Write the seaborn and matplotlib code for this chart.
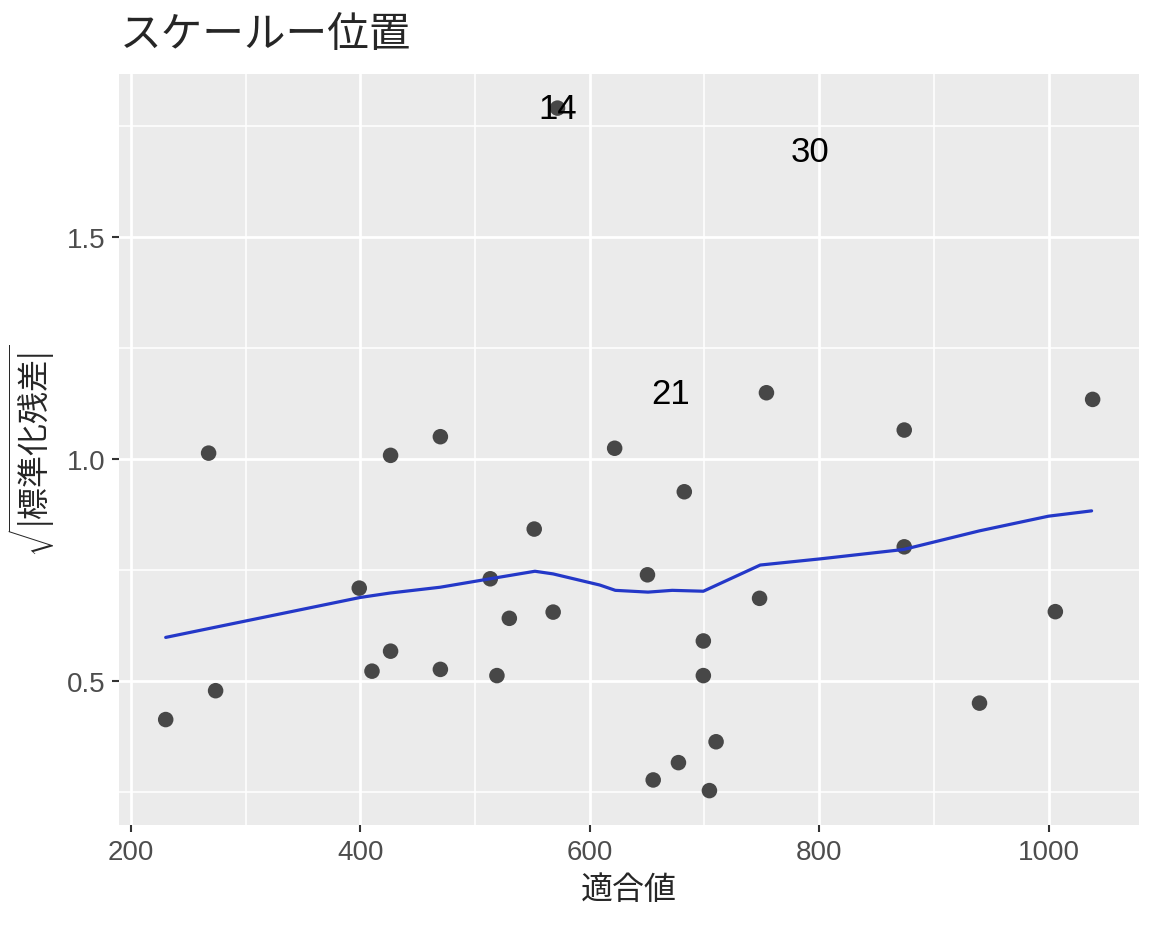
import numpy as np
import pandas as pd
import seaborn as sns
import matplotlib
matplotlib.use("Agg")
import matplotlib.pyplot as plt
from matplotlib.ticker import MultipleLocator

# fitted values vs sqrt(|standardized residuals|)
fitted = [230.4, 267.8, 273.9, 399.1, 410.2, 426.4, 426.4, 469.8, 469.8, 513.3,
          519.1, 529.9, 551.6, 568.1, 571.9, 621.7, 650.3, 682.4, 655.3, 677.3,
          699.0, 699.0, 710.1, 704.3, 748.0, 754.0, 874.1, 874.1, 939.7, 1005.8,
          1038.3]
sqrt_resid = [0.414, 1.014, 0.479, 0.710, 0.523, 0.568, 1.009, 1.051, 0.527, 0.731,
              0.513, 0.642, 0.843, 0.656, 1.791, 1.025, 0.740, 0.927, 0.278, 0.317,
              0.591, 0.513, 0.364, 0.254, 0.687, 1.150, 1.066, 0.803, 0.451, 0.657,
              1.135]

# smoother
smooth_x = [230.4, 400.0, 426.1, 469.6, 513.0, 552.2, 568.1, 608.7, 622.3, 650.8,
            671.9, 699.0, 748.6, 801.3, 873.5, 939.7, 999.8, 1037.4]
smooth_y = [0.599, 0.689, 0.699, 0.712, 0.731, 0.748, 0.742, 0.717, 0.705, 0.701,
            0.705, 0.703, 0.762, 0.776, 0.797, 0.839, 0.872, 0.884]

# labelled observations
label_text = ["14", "30", "21"]
label_x = [571.9, 791.7, 670.4]
label_y = [1.791, 1.693, 1.149]

sns.set_theme(style="darkgrid", rc={
    "axes.facecolor": "#EBEBEB",
    "grid.color": "white",
    "axes.edgecolor": "none",
    "xtick.bottom": True,
    "ytick.left": True,
    "xtick.color": "#333333",
    "ytick.color": "#333333",
})
plt.rcParams["font.family"] = ["Liberation Sans", "Noto Sans CJK JP", "DejaVu Sans"]
plt.rcParams["mathtext.fontset"] = "custom"
plt.rcParams["mathtext.rm"] = "Noto Sans CJK JP"
plt.rcParams["mathtext.it"] = "Noto Sans CJK JP"
plt.rcParams["mathtext.bf"] = "Noto Sans CJK JP"

df = pd.DataFrame({"fitted": fitted, "resid": sqrt_resid})
sm = pd.DataFrame({"x": smooth_x, "y": smooth_y})

fig = plt.figure(figsize=(11.52, 9.28), dpi=100)
ax = fig.add_axes([0.1036, 0.1102, 0.8851, 0.809])

sns.scatterplot(data=df, x="fitted", y="resid", ax=ax, color="#474747",
                s=125, edgecolor="none", zorder=3)
sns.lineplot(data=sm, x="x", y="y", ax=ax, color="#2438C8", linewidth=2.3,
             zorder=4)
for t, x, y in zip(label_text, label_x, label_y):
    ax.text(x, y, t, ha="center", va="center", fontsize=25, color="black", zorder=5)

# ggplot style 5% expansion
xr = max(fitted) - min(fitted)
yr = max(sqrt_resid) - min(sqrt_resid)
ax.set_xlim(min(fitted) - 0.05 * xr, max(fitted) + 0.05 * xr)
ax.set_ylim(min(sqrt_resid) - 0.05 * yr, max(sqrt_resid) + 0.05 * yr)

ax.xaxis.set_major_locator(MultipleLocator(200))
ax.xaxis.set_minor_locator(MultipleLocator(100))
ax.yaxis.set_major_locator(MultipleLocator(0.5))
ax.yaxis.set_minor_locator(MultipleLocator(0.25))
ax.yaxis.set_major_formatter(matplotlib.ticker.FormatStrFormatter("%.1f"))
ax.grid(which="major", color="white", linewidth=2.0)
ax.grid(which="minor", color="white", linewidth=1.1)
ax.tick_params(which="major", length=5, width=1.5, labelsize=20,
               labelcolor="#4D4D4D", pad=5)
ax.tick_params(which="minor", length=0)

ax.set_xlabel("適合値", fontsize=23, labelpad=6, family=["Noto Sans CJK JP"])
ax.set_ylabel(r"$\sqrt{|\mathrm{標準化残差}|}$", fontsize=23, labelpad=6)
ax.set_title("スケールー位置", loc="left", fontsize=30, pad=20,
             family=["Noto Sans CJK JP"])

fig.savefig("out.png", dpi=100)
